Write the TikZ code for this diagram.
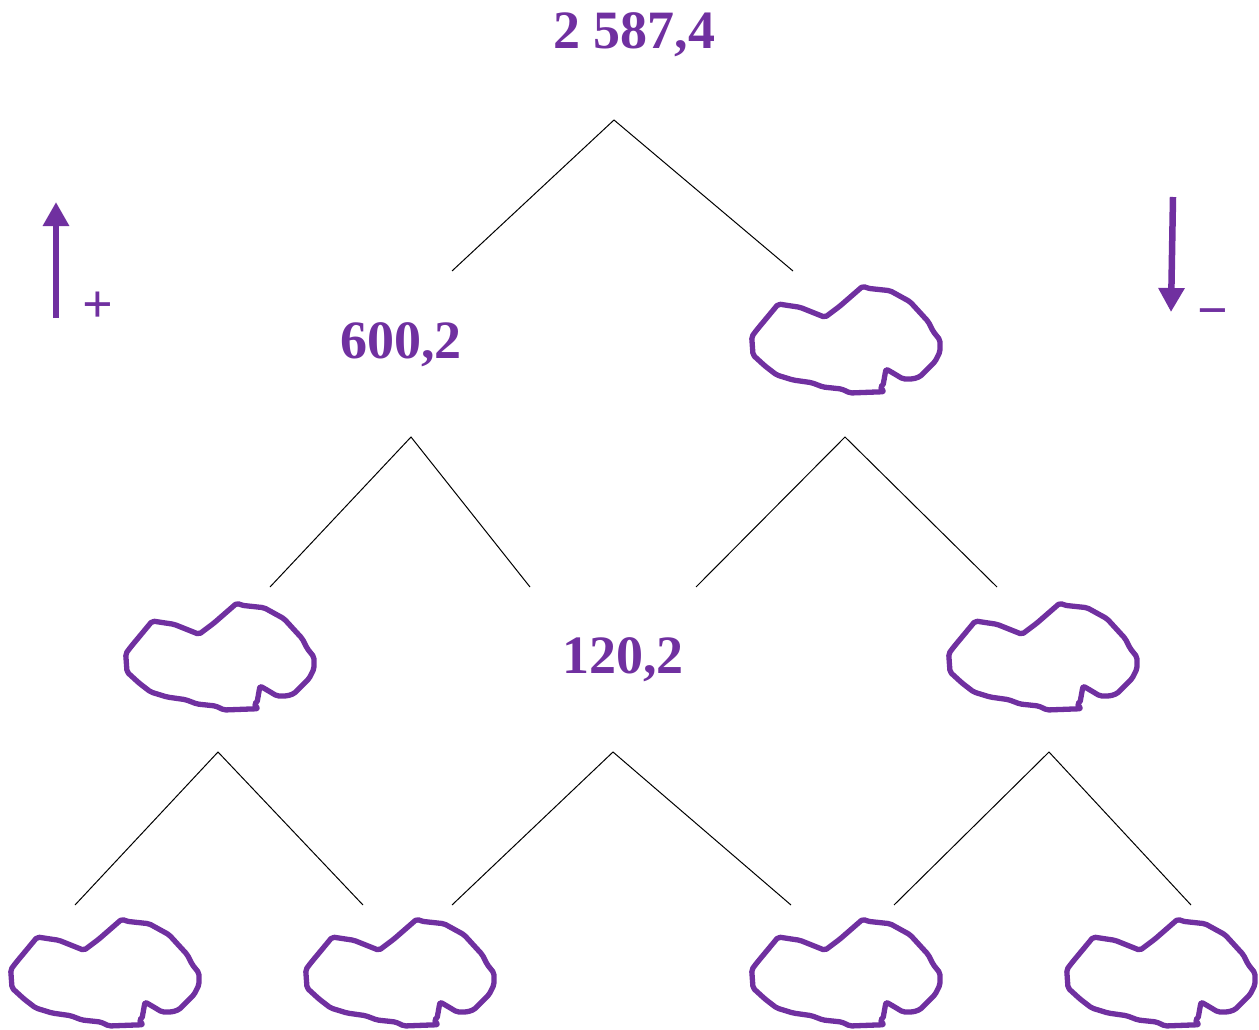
\documentclass[tikz,border=0pt]{standalone}
\usepackage{fontspec}
\setmainfont{Liberation Serif}
\usetikzlibrary{arrows.meta}
\definecolor{vio}{HTML}{7030A0}
\tikzset{
  blobline/.style={draw=vio, line width=5.3pt, line join=round, rounded corners=2pt},
  blob/.pic={\draw[blobline] (-84.7,18) -- (-63,21.3) -- (-38,31.3) -- (-23,20) -- (0,0) -- (4.7,2.3) -- (27,4.7) -- (47,15.7) -- (65.3,35.7) -- (70.3,45.7) -- (77,54) -- (77,65.7) -- (72,75.7) -- (57,90.7) -- (50,93) -- (40,93) -- (30,87) -- (23,83) -- (21,94) -- (20,100) -- (17,101) -- (21,105.7) -- (-13,107) -- (-21.3,103) -- (-40,101) -- (-51.3,96.7) -- (-70,94) -- (-86.3,89) -- (-98,80) -- (-110,69) -- (-111.3,50.7) -- (-106.3,44) -- cycle;},
  edge/.style={draw=black, line width=1pt},
  num/.style={text=vio, font=\fontsize{54}{60}\selectfont\bfseries, inner sep=0pt},
  sign/.style={text=vio, font=\fontsize{54}{60}\selectfont\bfseries, inner sep=0pt},
  bigarrow/.style={draw=vio, line width=6.5pt, -{Triangle[width=25pt,length=24pt]}}
}
\begin{document}
\begin{tikzpicture}[x=1pt,y=-1pt]
\useasboundingbox (0,0) rectangle (1259,1030);
% numbers
\node[num] (n1) at (634,35) {2 587,4};
\node[num] (n2) at (401,345) {600,2};
\node[num] (n3) at (623,660) {120,2};
% blobs
\pic (b1) at (863,286) {blob};
\pic (b2) at (237,603) {blob};
\pic (b3) at (1060,603) {blob};
\pic (b4) at (122,919) {blob};
\pic (b5) at (417,919) {blob};
\pic (b6) at (863,919) {blob};
\pic (b7) at (1178,919) {blob};
% tree coordinates
\coordinate (a1) at (614,120);
\coordinate (l1) at (452,271);
\coordinate (r1) at (793,271);
\coordinate (a2) at (411,437);
\coordinate (l2) at (270,587);
\coordinate (r2) at (530,587);
\coordinate (a3) at (845,437);
\coordinate (l3) at (696,587);
\coordinate (r3) at (997,587);
\coordinate (a4) at (218,752);
\coordinate (l4) at (75,905);
\coordinate (r4) at (363,905);
\coordinate (a5) at (613,752);
\coordinate (l5) at (452,905);
\coordinate (r5) at (791,905);
\coordinate (a6) at (1049,752);
\coordinate (l6) at (894,905);
\coordinate (r6) at (1191,905);
\foreach \i in {1,...,6} {
  \draw[edge] (l\i) -- (a\i) -- (r\i);
}
% side arrows
\coordinate (up1) at (56,318);
\coordinate (up2) at (56,202);
\coordinate (dn1) at (1173,197);
\coordinate (dn2) at (1171,312);
\draw[bigarrow] (up1) -- (up2);
\draw[bigarrow] (dn1) -- (dn2);
\node[sign] (plus) at (98,307) {+};
\node[sign, anchor=base] (minus) at (1213,328) {−};
\end{tikzpicture}
\end{document}
